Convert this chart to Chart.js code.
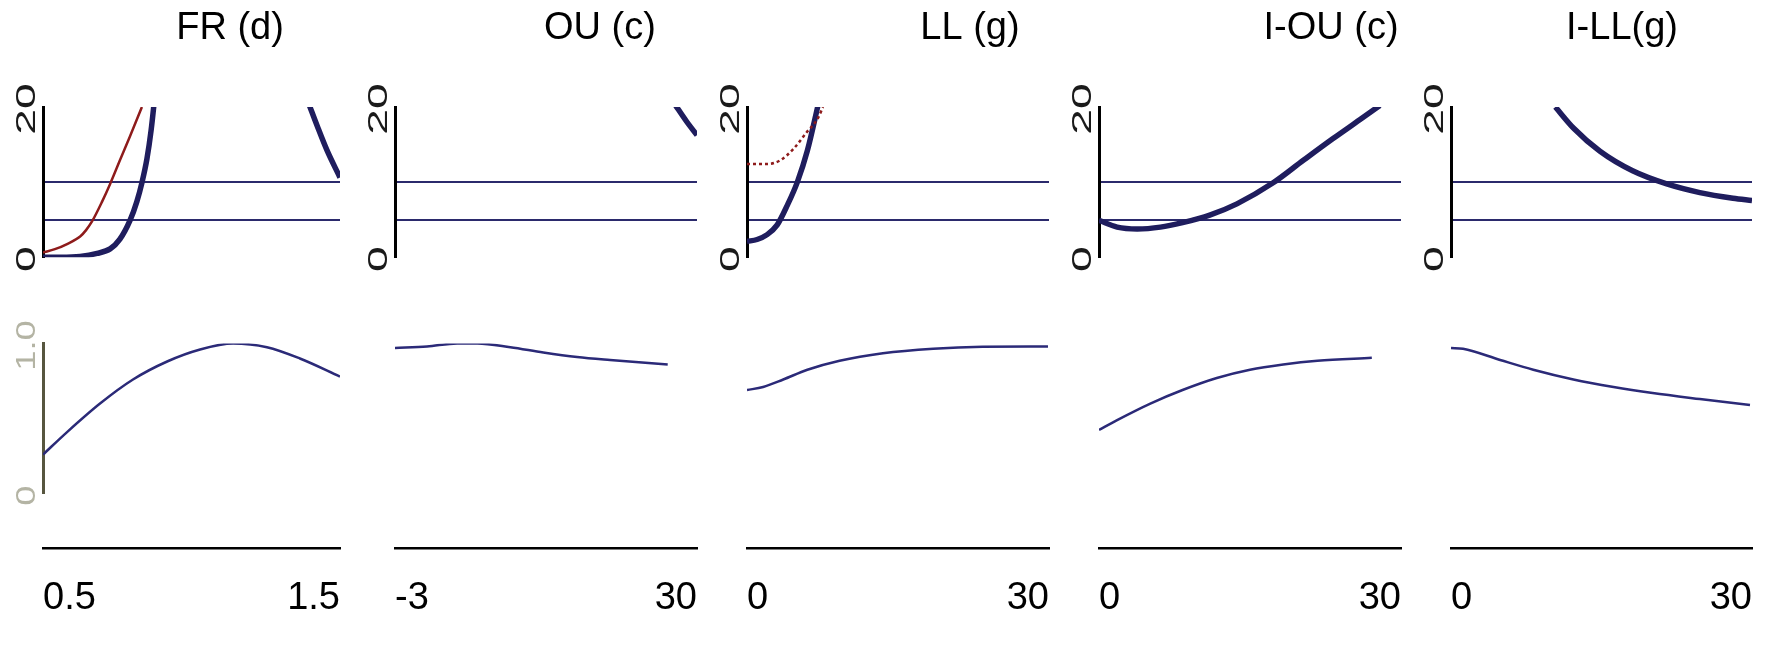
<!DOCTYPE html>
<html>
<head>
<meta charset="utf-8">
<script src="https://cdn.jsdelivr.net/npm/chart.js@4.4.1/dist/chart.umd.min.js"></script>
<style>
  html, body { margin: 0; padding: 0; background: #fff; }
  #wrap { position: relative; width: 1769px; height: 649px; overflow: hidden; }
  #wrap canvas { position: absolute; top: 0; }
</style>
</head>
<body>
<div id="wrap"></div>
<script>
// panels, left to right
const titles = ['FR (d)', 'OU (c)', 'LL (g)', 'I-OU (c)', 'I-LL(g)'];
const xMin = [0.5, -3, 0, 0, 0];
const xMax = [1.5, 30, 30, 30, 30];
const xTickLabels = [['0.5', '1.5'], ['-3', '30'], ['0', '30'], ['0', '30'], ['0', '30']];
const topTicks = [0, 20];
const topTickLabels = ['0', '20'];
const refLines = [5, 10];
const lowTicks = [0, 1];
const lowTickLabels = ['0', '1.0'];

// FR (d)
const frHiX = [0.5, 0.56, 0.625, 0.682, 0.726, 0.759, 0.793, 0.816, 0.833, 0.85, 0.864, 0.874, 0.885, 1.1, 1.38, 1.399, 1.423, 1.456, 1.5];
const frHiY = [0, 0, 0.1, 0.5, 1.1, 2.4, 4.9, 7.4, 9.9, 13.1, 16.9, 20.5, 25, null, 22, 20, 17.5, 14.25, 10.6];
const frAltX = [0.5, 0.54, 0.581, 0.625, 0.645, 0.665, 0.699, 0.726, 0.759, 0.793, 0.833];
const frAltY = [0.6, 1.06, 1.75, 2.75, 3.6, 4.75, 7.4, 9.75, 12.9, 16.1, 20];
const frLowX = [0.5, 0.581, 0.692, 0.803, 0.918, 1.029, 1.14, 1.254, 1.365, 1.5];
const frLowY = [0.26, 0.41, 0.60, 0.76, 0.88, 0.96, 1.0, 0.975, 0.90, 0.78];

// OU (c)
const ouHiX = [27.5, 28.9, 30];
const ouHiY = [20.5, 18, 16.25];
const ouLowX = [-3, 0.5, 3.8, 6.0, 9.6, 13.2, 16.9, 20.5, 26.8];
const ouLowY = [0.97, 0.98, 1.0, 1.0, 0.975, 0.94, 0.91, 0.89, 0.86];

// LL (g)
const llHiX = [0, 1, 2, 3, 4, 5, 6, 7, 7.1];
const llHiY = [2.1, 2.35, 3.0, 4.3, 6.9, 10.0, 14.2, 19.9, 20.5];
const llAltX = [0, 2.0, 3.3, 4.6, 6.0, 7.0, 7.55];
const llAltY = [12.4, 12.4, 12.9, 14.4, 16.75, 18.4, 20];
const llLowX = [0, 1.6, 3.6, 6.0, 9.2, 13.5, 18.5, 23.4, 29.9];
const llLowY = [0.69, 0.71, 0.76, 0.825, 0.885, 0.935, 0.965, 0.978, 0.98];

// I-OU (c)
const iouHiX = [0, 1.8, 3.8, 6.1, 8.3, 11.0, 13.7, 17.3, 20.3, 23.25, 25.9, 27.9];
const iouHiY = [4.9, 4.0, 3.75, 4.0, 4.6, 5.6, 7.1, 9.9, 12.9, 15.8, 18.3, 20.2];
const iouLowX = [0, 1.8, 5.1, 8.3, 11.7, 15.0, 18.3, 21.7, 27.1];
const iouLowY = [0.425, 0.49, 0.60, 0.69, 0.77, 0.825, 0.86, 0.885, 0.905];

// I-LL(g)
const illHiX = [10.4, 12.2, 14.85, 18.1, 21.5, 24.8, 28.1, 30];
const illHiY = [20, 17.2, 14.1, 11.5, 9.75, 8.6, 7.85, 7.55];
const illLowX = [0, 1.2, 4.9, 8.2, 12.2, 16.2, 20.1, 24.8, 29.8];
const illLowY = [0.97, 0.965, 0.89, 0.825, 0.76, 0.71, 0.67, 0.63, 0.59];

// canvas placement per panel (left edge, width, spacer on the right so the title sits where it should)
const boxes = [
    { left: 3, width: 454, rightW: 117 },
    { left: 355, width: 490, rightW: 148 },
    { left: 707, width: 526, rightW: 184 },
    { left: 1059, width: 544, rightW: 202 },
    { left: 1411, width: 422, rightW: 81 }
];
const AXIS_W = 40;

const styles = {
    thick: { borderColor: '#1f1d5e', borderWidth: 5.5 },
    red: { borderColor: '#8e1b1b', borderWidth: 2.5 },
    redDot: { borderColor: '#8e1b1b', borderWidth: 2.5, borderDash: [3, 3] },
    thin: { borderColor: '#2b2a78', borderWidth: 2.5 }
};

const series = [
    [[frHiX, frHiY, 'yTop', 'thick'], [frAltX, frAltY, 'yTop', 'red'], [frLowX, frLowY, 'yLow', 'thin']],
    [[ouHiX, ouHiY, 'yTop', 'thick'], [ouLowX, ouLowY, 'yLow', 'thin']],
    [[llAltX, llAltY, 'yTop', 'redDot'], [llHiX, llHiY, 'yTop', 'thick'], [llLowX, llLowY, 'yLow', 'thin']],
    [[iouHiX, iouHiY, 'yTop', 'thick'], [iouLowX, iouLowY, 'yLow', 'thin']],
    [[illHiX, illHiY, 'yTop', 'thick'], [illLowX, illLowY, 'yLow', 'thin']]
];

Chart.defaults.font.family = "'Liberation Sans', Arial, sans-serif";
Chart.defaults.color = '#000';

// y tick labels in the reference are turned 90 degrees, which Chart.js can't do for vertical axes
const rotatedTicks = {
    id: 'rotatedTicks',
    afterDraw(chart, args, opts) {
        const ctx = chart.ctx;
        (opts.items || []).forEach(item => {
            const scale = chart.scales[item.axis];
            item.values.forEach((v, k) => {
                ctx.save();
                ctx.translate(chart.chartArea.left - 16, scale.getPixelForValue(v) + 2);
                ctx.rotate(-Math.PI / 2);
                ctx.scale(item.stretch, 1);
                ctx.font = "28px 'Liberation Sans', Arial, sans-serif";
                ctx.fillStyle = item.color;
                ctx.textAlign = 'center';
                ctx.textBaseline = 'middle';
                ctx.fillText(item.labels[k], 0, 0);
                ctx.restore();
            });
        });
    }
};

function pts(xs, ys) {
    return xs.map((x, k) => ({ x: x, y: ys[k] }));
}

function fixWidth(w) {
    return scale => { scale.width = w; };
}

const hidden = {
    type: 'linear',
    min: 0,
    max: 1,
    ticks: { display: false },
    grid: { display: false },
    border: { display: false }
};

titles.forEach((title, i) => {
    const box = boxes[i];
    const canvas = document.createElement('canvas');
    canvas.width = box.width;
    canvas.height = 649;
    canvas.style.left = box.left + 'px';
    document.getElementById('wrap').appendChild(canvas);

    const datasets = series[i].map(([xs, ys, axis, style]) => Object.assign({
        data: pts(xs, ys),
        yAxisID: axis,
        pointRadius: 0,
        fill: false,
        cubicInterpolationMode: 'monotone'
    }, styles[style]));

    const labelItems = [{ axis: 'yTop', values: topTicks, labels: topTickLabels, color: '#1a1a1a', stretch: 1.65 }];
    if (i === 0) {
        labelItems.push({ axis: 'yLow', values: lowTicks, labels: lowTickLabels, color: '#b4b4a4', stretch: 1.3 });
    }

    new Chart(canvas, {
        type: 'line',
        data: { datasets: datasets },
        options: {
            responsive: false,
            animation: false,
            events: [],
            layout: { padding: 0 },
            plugins: {
                legend: { display: false },
                tooltip: { enabled: false },
                title: {
                    display: true,
                    text: title,
                    color: '#000',
                    font: { size: 38, weight: 'normal', lineHeight: 1.2 },
                    padding: { top: 5.7, bottom: 55.7 }
                },
                rotatedTicks: { items: labelItems }
            },
            scales: {
                x: {
                    type: 'linear',
                    position: 'bottom',
                    min: xMin[i],
                    max: xMax[i],
                    grid: { display: false, drawTicks: false },
                    border: { color: '#000', width: 2.5 },
                    afterBuildTicks: s => { s.ticks = [{ value: xMin[i] }, { value: xMax[i] }]; },
                    ticks: {
                        align: 'inner',
                        autoSkip: false,
                        maxRotation: 0,
                        padding: 29,
                        color: '#000',
                        font: { size: 38, lineHeight: 1.13 },
                        callback: (v, idx) => xTickLabels[i][idx]
                    }
                },
                yTop: {
                    type: 'linear',
                    position: 'left',
                    stack: 'col',
                    stackWeight: 160,
                    weight: 4,
                    min: 0,
                    max: 20,
                    afterBuildTicks: s => { s.ticks = [0, ...refLines, 20].map(v => ({ value: v })); },
                    ticks: { display: false },
                    grid: {
                        drawTicks: false,
                        lineWidth: 2,
                        color: c => (c.tick && refLines.includes(c.tick.value)) ? '#2b2a6c' : 'rgba(0,0,0,0)'
                    },
                    border: { color: '#000', width: 3 },
                    afterFit: fixWidth(AXIS_W)
                },
                yGapA: Object.assign({}, hidden, {
                    position: 'left', stack: 'col', stackWeight: 92, weight: 3, afterFit: fixWidth(AXIS_W)
                }),
                yLow: Object.assign({}, hidden, {
                    position: 'left', stack: 'col', stackWeight: 160, weight: 2,
                    border: { display: i === 0, color: '#57563f', width: 3 },
                    afterFit: fixWidth(AXIS_W)
                }),
                yGapB: Object.assign({}, hidden, {
                    position: 'left', stack: 'col', stackWeight: 58, weight: 1, afterFit: fixWidth(AXIS_W)
                }),
                ySpace: Object.assign({}, hidden, {
                    position: 'right', afterFit: fixWidth(box.rightW)
                })
            }
        },
        plugins: [rotatedTicks]
    });
});
</script>
</body>
</html>
